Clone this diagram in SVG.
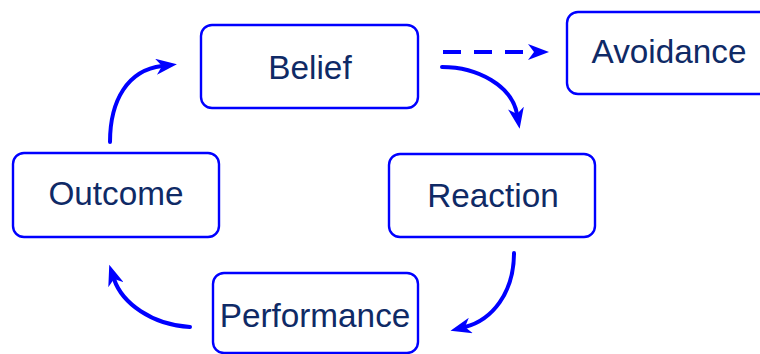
<svg xmlns="http://www.w3.org/2000/svg" width="760" height="354" viewBox="0 0 760 354">
<style>
.box{fill:#fff;stroke:#0000ff;stroke-width:2.4}
.lbl{font-family:"Liberation Sans",Arial,sans-serif;font-size:33.3px;fill:#0f2a66;text-anchor:middle}
.arc{fill:none;stroke:#0000ff;stroke-width:4;stroke-linecap:round}
.dash{fill:none;stroke:#0000ff;stroke-width:4;stroke-dasharray:18 13}
</style>
<defs>
<marker id="ah" markerUnits="userSpaceOnUse" markerWidth="22" markerHeight="16" viewBox="0 0 22 16" refX="6" refY="8" orient="auto">
<path d="M0,0 L21,8 L0,16 L6,8 Z" fill="#0000ff"/>
</marker>
</defs>
<rect width="760" height="354" fill="#fff"/>
<g id="connectors">
<path class="arc" d="M110,142 C110,100 128,70 162,66" marker-end="url(#ah)"/>
<path class="arc" d="M442,67 C478,67 512,86 517,114" marker-end="url(#ah)"/>
<path class="arc" d="M514,253 C514,293 492,320 465,327" marker-end="url(#ah)"/>
<path class="arc" d="M190,327 C152,325 122,303 114,279" marker-end="url(#ah)"/>
<path class="dash" d="M443,52 L534,52" marker-end="url(#ah)"/>
</g>
<g id="belief">
<rect class="box" x="201" y="25" width="217" height="83" rx="11"/>
<text class="lbl" x="310" y="79">Belief</text>
</g>
<g id="avoidance">
<rect class="box" x="567" y="12" width="210" height="82" rx="11"/>
<text class="lbl" x="669" y="63">Avoidance</text>
</g>
<g id="reaction">
<rect class="box" x="389" y="154" width="206" height="83" rx="11"/>
<text class="lbl" x="493" y="207">Reaction</text>
</g>
<g id="outcome">
<rect class="box" x="13" y="153" width="206" height="84" rx="11"/>
<text class="lbl" x="116" y="205">Outcome</text>
</g>
<g id="performance">
<rect class="box" x="213" y="273" width="205" height="80" rx="11"/>
<text class="lbl" x="315" y="327">Performance</text>
</g>
</svg>
